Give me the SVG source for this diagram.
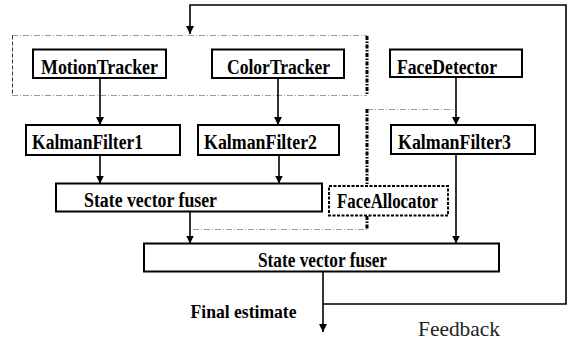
<svg xmlns="http://www.w3.org/2000/svg" width="568" height="342" viewBox="0 0 568 342">
  <defs>
    <marker id="arrow" viewBox="0 0 8 10" refX="8" refY="5" markerWidth="8" markerHeight="10" markerUnits="userSpaceOnUse" orient="auto">
      <path d="M0,1 L8,5 L0,9 Z" fill="#000"/>
    </marker>
    <style>
      .box { fill: #fff; stroke: #000; stroke-width: 2; }
      .lbl { font-family: "Liberation Serif", "Times New Roman", serif; font-weight: bold; font-size: 20px; fill: #000; }
      .plain { font-family: "Liberation Serif", "Times New Roman", serif; font-size: 21px; fill: #222; }
      .edge { fill: none; stroke: #000; stroke-width: 1.6; }
      .thin { fill: none; stroke: #999; stroke-width: 1; stroke-dasharray: 6 2 1 2; }
      .thinDark { fill: none; stroke: #333; stroke-width: 1; stroke-dasharray: 4 2; }
      .heavy { fill: none; stroke: #000; stroke-width: 3; stroke-dasharray: 4 1.5 1.5 1.5; }
      .dotbox { fill: #fff; stroke: #000; stroke-width: 2; stroke-dasharray: 3 1.5; }
    </style>
  </defs>

  <!-- grouping outlines -->
  <g id="groups">
    <path class="thin" d="M12,35.5 H367 M12,95.5 H367"/>
    <path class="thinDark" d="M12.5,35.5 V95.5"/>
    <path class="heavy" d="M367,36 V95.5"/>
    <path class="thin" d="M367,109.5 H455"/>
    <path class="heavy" d="M367,109 V185"/>
    <path class="heavy" d="M367,216 V229.5"/>
    <path class="thin" d="M193,229.5 H367"/>
  </g>

  <!-- connectors -->
  <g id="connectors">
    <line class="edge" x1="100" y1="78" x2="100" y2="125" marker-end="url(#arrow)"/>
    <line class="edge" x1="278" y1="78" x2="278" y2="125" marker-end="url(#arrow)"/>
    <line class="edge" x1="456" y1="77" x2="456" y2="125" marker-end="url(#arrow)"/>
    <line class="edge" x1="100" y1="155" x2="100" y2="183.5" marker-end="url(#arrow)"/>
    <line class="edge" x1="279" y1="155" x2="279" y2="183.5" marker-end="url(#arrow)"/>
    <line class="edge" x1="190" y1="211.5" x2="190" y2="243.5" marker-end="url(#arrow)"/>
    <line class="edge" x1="456" y1="154" x2="456" y2="243.5" marker-end="url(#arrow)"/>
    <line class="edge" x1="323" y1="271.5" x2="323" y2="332" marker-end="url(#arrow)"/>
    <path class="edge" d="M323,304 H566 V5 H190 V34" marker-end="url(#arrow)"/>
  </g>

  <g id="motionTracker">
    <rect class="box" x="33" y="49.5" width="133" height="28.5"/>
    <text class="lbl" x="41" y="74" textLength="117" lengthAdjust="spacingAndGlyphs">MotionTracker</text>
  </g>
  <g id="colorTracker">
    <rect class="box" x="212" y="49.5" width="132" height="28.5"/>
    <text class="lbl" x="227" y="74" textLength="103" lengthAdjust="spacingAndGlyphs">ColorTracker</text>
  </g>
  <g id="faceDetector">
    <rect class="box" x="390" y="49.5" width="132" height="27.5"/>
    <text class="lbl" x="397" y="74" textLength="100" lengthAdjust="spacingAndGlyphs">FaceDetector</text>
  </g>
  <g id="kalman1">
    <rect class="box" x="26" y="125" width="154" height="30"/>
    <text class="lbl" x="32" y="149" textLength="111" lengthAdjust="spacingAndGlyphs">KalmanFilter1</text>
  </g>
  <g id="kalman2">
    <rect class="box" x="198" y="125" width="141" height="30"/>
    <text class="lbl" x="204" y="149" textLength="113" lengthAdjust="spacingAndGlyphs">KalmanFilter2</text>
  </g>
  <g id="kalman3">
    <rect class="box" x="391" y="125" width="144" height="29"/>
    <text class="lbl" x="398" y="149" textLength="113" lengthAdjust="spacingAndGlyphs">KalmanFilter3</text>
  </g>
  <g id="fuser1">
    <rect class="box" x="56" y="183.5" width="266" height="28"/>
    <text class="lbl" x="84" y="207" textLength="133" lengthAdjust="spacingAndGlyphs">State vector fuser</text>
  </g>
  <g id="faceAllocator">
    <rect class="dotbox" x="329" y="186" width="119" height="29.5"/>
    <text class="lbl" x="337" y="208" textLength="101" lengthAdjust="spacingAndGlyphs">FaceAllocator</text>
  </g>
  <g id="fuser2">
    <rect class="box" x="144" y="243.5" width="355" height="28"/>
    <text class="lbl" x="258" y="267" textLength="129" lengthAdjust="spacingAndGlyphs">State vector fuser</text>
  </g>

  <g id="labels">
    <text class="lbl" x="190.5" y="318" textLength="106" lengthAdjust="spacingAndGlyphs" style="font-size:19px">Final estimate</text>
    <text class="plain" x="418" y="336" textLength="82" lengthAdjust="spacingAndGlyphs">Feedback</text>
  </g>
</svg>
